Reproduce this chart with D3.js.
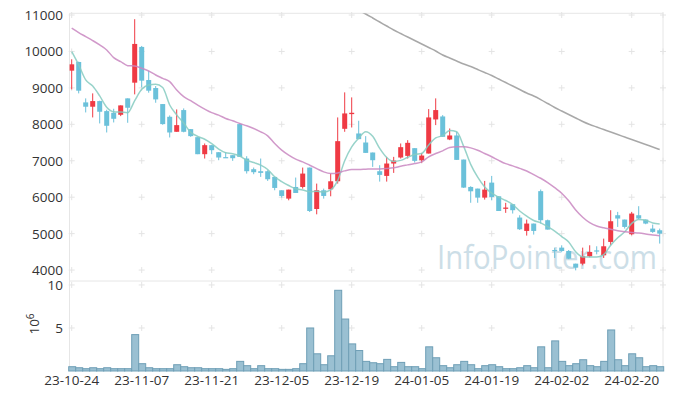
<!DOCTYPE html>
<html>
<head>
<meta charset="utf-8">
<script src="https://cdnjs.cloudflare.com/ajax/libs/d3/7.8.5/d3.min.js"></script>
<style>
  body { margin: 0; background: #fff; }
  svg { display: block; }
  text { font-family: "Open Sans", sans-serif; }
</style>
</head>
<body>
<div id="chart"></div>
<script>
// trading days
var dates = [
  "23-10-24","23-10-25","23-10-26","23-10-27","23-10-30","23-10-31","23-11-01","23-11-02","23-11-03","23-11-06",
  "23-11-07","23-11-08","23-11-09","23-11-10","23-11-13","23-11-14","23-11-15","23-11-16","23-11-17","23-11-20",
  "23-11-21","23-11-22","23-11-23","23-11-24","23-11-27","23-11-28","23-11-29","23-11-30","23-12-01","23-12-04",
  "23-12-05","23-12-06","23-12-07","23-12-08","23-12-11","23-12-12","23-12-13","23-12-14","23-12-15","23-12-18",
  "23-12-19","23-12-20","23-12-21","23-12-22","23-12-26","23-12-27","23-12-28","24-01-02","24-01-03","24-01-04",
  "24-01-05","24-01-08","24-01-09","24-01-10","24-01-11","24-01-12","24-01-15","24-01-16","24-01-17","24-01-18",
  "24-01-19","24-01-22","24-01-23","24-01-24","24-01-25","24-01-26","24-01-29","24-01-30","24-01-31","24-02-01",
  "24-02-02","24-02-05","24-02-06","24-02-07","24-02-08","24-02-13","24-02-14","24-02-15","24-02-16","24-02-19",
  "24-02-20","24-02-21","24-02-22","24-02-23","24-02-26"
];

var opens = [9473,9711,8602,8483,8638,8363,8317,8262,8712,9143,
  10124,9216,8996,8556,8207,7795,8391,7868,7648,7180,
  7428,7235,7100,7153,8006,7061,6768,6713,6713,6557,
  6190,5961,6281,6281,6813,5676,6190,6217,6437,7877,
  8280,7749,7501,7226,6713,6584,6924,7089,7134,7346,
  7015,7198,8134,8216,7584,7694,7033,6281,6236,5988,
  6400,6025,5680,5808,5441,5074,5276,6166,5368,4550,
  4616,4524,4176,4176,4378,4540,4405,4772,5505,5386,
  4983,5505,5386,5138,5093];
var highs = [9785,9720,8712,8849,8648,8400,8427,8519,8712,10885,
  10151,9464,9051,8556,8244,8409,8437,7868,7648,7474,
  7428,7235,7235,7153,8024,7125,6814,7061,6740,6557,
  6190,6208,6539,6813,6813,6373,6236,6648,8189,8877,
  8739,8098,7676,7226,6878,7107,7107,7474,7565,7346,
  7216,8418,8712,8253,7886,7795,7033,6300,6236,6446,
  6584,6025,5845,5808,5505,5386,5276,6211,5386,4616,
  4680,4550,4176,4616,4680,4653,4863,5643,5597,5386,
  5597,5753,5386,5249,5138];
var lows = [8959,8849,8326,8189,8024,7776,8051,8225,8042,8822,
  9014,8868,8592,7988,7639,7795,7780,7657,7180,7061,
  7180,7015,7080,6997,7107,6649,6631,6557,6447,6190,
  5988,5915,6116,6236,5593,5530,5961,6025,6373,7795,
  7914,7593,7216,6832,6428,6428,6667,7061,7061,6951,
  6942,7198,7978,7657,7566,7024,6254,5847,5847,5934,
  5915,5621,5570,5551,5100,4946,4974,5276,5111,4332,
  4500,4300,3992,4130,4350,4432,4332,4680,5184,5138,
  4955,5400,5258,5020,4727];
var closes = [9647,8923,8483,8638,8345,7960,8152,8519,8455,10206,
  9198,8923,8684,8006,7776,7978,7795,7676,7180,7428,
  7290,7089,7089,7070,7107,6713,6686,6667,6493,6254,
  6034,6208,6116,6648,5621,6190,6034,6437,7538,8299,
  8317,7593,7216,7015,6612,6924,7006,7373,7492,6997,
  7143,8189,8391,7657,7694,7024,6263,6162,5988,6208,
  6006,5621,5716,5643,5120,5276,5074,5368,5111,4524,
  4524,4313,4066,4378,4497,4524,4653,5340,5414,5184,
  5551,5414,5276,5047,5000];

// volume, in 10^6 shares
var volume = [0.5,0.38,0.27,0.38,0.27,0.38,0.27,0.27,0.27,4.23,
  0.85,0.38,0.27,0.27,0.27,0.73,0.5,0.38,0.38,0.27,
  0.27,0.27,0.19,0.27,1.12,0.62,0.27,0.62,0.27,0.27,
  0.19,0.19,0.27,0.85,5.0,2.0,0.73,1.77,9.38,6.04,
  3.15,2.38,1.12,0.96,0.85,1.35,0.5,1.0,0.5,0.5,
  0.27,2.81,1.54,0.62,0.38,0.73,1.12,0.73,0.27,0.62,
  0.73,0.5,0.27,0.27,0.38,0.62,0.38,2.81,0.38,3.5,
  1.12,0.62,0.85,1.31,0.62,0.5,1.12,4.77,1.31,0.62,
  2.0,1.54,0.5,0.62,0.5];

// moving averages as drawn
var ma5 = [9995,9630,9220,9050,8780,8470,8345,8335,8320,8650,
  8960,9080,9100,9010,8530,8260,8035,7780,7670,7590,
  7470,7320,7220,7195,7130,7015,6950,6880,6760,6560,
  6425,6320,6230,6200,6150,6160,6140,6200,6460,7000,
  7380,7620,7795,7670,7340,7090,6980,7010,7095,7170,
  7200,7435,7625,7690,7830,7795,7395,6900,6550,6280,
  6110,6000,5910,5800,5620,5480,5360,5296,5190,5071,
  4920,4768,4500,4360,4356,4356,4424,4680,4886,5050,
  5280,5390,5368,5294,5265];
var ma20 = [10637,10518,10408,10298,10179,10041,9830,9720,9610,9600,
  9537,9464,9354,9262,9170,8941,8758,8648,8528,8418,
  8320,8253,8161,8097,8024,7960,7886,7795,7685,7474,
  7291,7153,7043,6969,6878,6786,6694,6648,6667,6722,
  6759,6759,6768,6777,6777,6786,6805,6850,6887,6924,
  6969,7107,7198,7272,7363,7382,7382,7354,7290,7200,
  7110,7010,6920,6860,6790,6720,6620,6520,6400,6260,
  6110,5900,5650,5450,5300,5210,5160,5120,5080,5050,
  5030,5015,4990,4960,4940];
var ma60Start = 40;
var ma60 = [11240,11130,11027,10918,10808,10698,10588,10492,10396,10300,
  10204,10108,10012,9902,9820,9737,9655,9586,9504,9422,
  9339,9243,9147,9051,8955,8859,8777,8680,8571,8461,
  8365,8269,8173,8077,7994,7926,7857,7788,7720,7651,
  7582,7514,7445,7377,7308];

var dateTicks = ["23-10-24","23-11-07","23-11-21","23-12-05","23-12-19","24-01-05","24-01-19","24-02-02","24-02-20"];
var priceTicks = [4000,5000,6000,7000,8000,9000,10000,11000];
var volumeTicks = [5,10];

function drawChart() {
  var W = 673, H = 399;
  var left = 69.5, right = 663, plotTop = 13.3, mid = 281, bottom = 371;
  var upColor = "#ef3a44", downColor = "#6bc1da";

  var svg = d3.select("#chart").append("svg").attr("width", W).attr("height", H);

  var x = d3.scaleBand().domain(dates).range([68.2, 663.2]);
  var bw = x.bandwidth();
  function cx(d) { return x(d) + bw / 2; }

  var y = d3.scaleLinear().domain([3700, 11047]).range([mid, plotTop]);
  var yv = d3.scaleLinear().domain([0, 10.46]).range([bottom, mid]);

  // frame
  var frame = svg.append("g").attr("stroke", "#e6e6e6").attr("fill", "none");
  frame.append("line").attr("x1", left).attr("x2", right).attr("y1", plotTop).attr("y2", plotTop);
  frame.append("line").attr("x1", left).attr("x2", right).attr("y1", mid).attr("y2", mid);
  frame.append("line").attr("x1", left).attr("x2", left).attr("y1", plotTop).attr("y2", bottom);
  frame.append("line").attr("x1", right).attr("x2", right).attr("y1", plotTop).attr("y2", bottom);

  // grid crosses
  var gx = dateTicks.map(cx).concat([right]);
  var gy = priceTicks.map(y).concat(volumeTicks.map(yv));
  var cross = svg.append("g").attr("stroke", "#e4e4e4").attr("stroke-width", 1);
  gx.forEach(function (px) {
    gy.forEach(function (py) {
      cross.append("line").attr("x1", px - 3).attr("x2", px + 3).attr("y1", py).attr("y2", py);
      cross.append("line").attr("x1", px).attr("x2", px).attr("y1", py - 3).attr("y2", py + 3);
    });
  });

  // watermark
  svg.append("text")
    .attr("x", 437).attr("y", 268.5)
    .attr("textLength", 220).attr("lengthAdjust", "spacingAndGlyphs")
    .attr("font-size", 32).attr("fill", "#bcd4e0").attr("opacity", 0.75)
    .text("InfoPointer.com");

  svg.append("clipPath").attr("id", "pclip").append("rect")
    .attr("x", left).attr("y", plotTop).attr("width", right - left).attr("height", mid - plotTop);

  var price = svg.append("g").attr("clip-path", "url(#pclip)");

  // candles
  function col(d, i) { return closes[i] >= opens[i] ? upColor : downColor; }
  var candle = price.selectAll("g.candle").data(dates).enter().append("g")
    .attr("class", "candle").attr("fill", col).attr("stroke", col);
  candle.append("line")
    .attr("x1", cx).attr("x2", cx)
    .attr("y1", function (d, i) { return y(highs[i]); })
    .attr("y2", function (d, i) { return y(lows[i]); })
    .attr("stroke-width", 1);
  candle.append("rect")
    .attr("stroke", "none")
    .attr("x", function (d) { return cx(d) - 2.5; })
    .attr("width", 5)
    .attr("y", function (d, i) { return y(Math.max(opens[i], closes[i])); })
    .attr("height", function (d, i) { return Math.max(1.2, Math.abs(y(opens[i]) - y(closes[i]))); });

  // moving average lines
  function maLine(vals, start, color) {
    var line = d3.line()
      .x(function (d, i) { return cx(dates[i + start]); })
      .y(function (d) { return y(d); })
      .curve(d3.curveMonotoneX);
    price.append("path").datum(vals)
      .attr("d", line).attr("fill", "none")
      .attr("stroke", color).attr("stroke-width", 1.5).attr("stroke-opacity", 0.85);
  }
  maLine(ma5, 0, "#86cbc1");
  maLine(ma20, 0, "#c987c1");
  maLine(ma60, ma60Start, "#999999");

  // volume
  svg.append("g").selectAll("rect").data(dates).enter().append("rect")
    .attr("x", function (d) { return x(d) + 0.5; })
    .attr("width", bw)
    .attr("y", function (d, i) { return yv(volume[i]); })
    .attr("height", function (d, i) { return bottom - yv(volume[i]); })
    .attr("fill", "#9ac0d2").attr("stroke", "#6f9fb6").attr("stroke-width", 1);

  // axis labels
  var lab = svg.append("g").attr("font-size", 13.5).attr("fill", "#333");
  lab.selectAll("text.py").data(priceTicks).enter().append("text")
    .attr("x", 63).attr("y", function (d) { return y(d) + 5; })
    .attr("text-anchor", "end").text(function (d) { return d; });
  lab.selectAll("text.vy").data(volumeTicks).enter().append("text")
    .attr("x", 63).attr("y", function (d) { return yv(d) + 5; })
    .attr("text-anchor", "end").text(function (d) { return d; });
  lab.selectAll("text.dx").data(dateTicks).enter().append("text")
    .attr("x", cx).attr("y", 385)
    .attr("text-anchor", "middle").text(function (d) { return d; });

  var unit = lab.append("text")
    .attr("transform", "translate(39,324) rotate(-90)")
    .attr("text-anchor", "middle");
  unit.append("tspan").text("10");
  unit.append("tspan").attr("dy", -5).attr("font-size", 10).text("6");
}

drawChart();
</script>
</body>
</html>
